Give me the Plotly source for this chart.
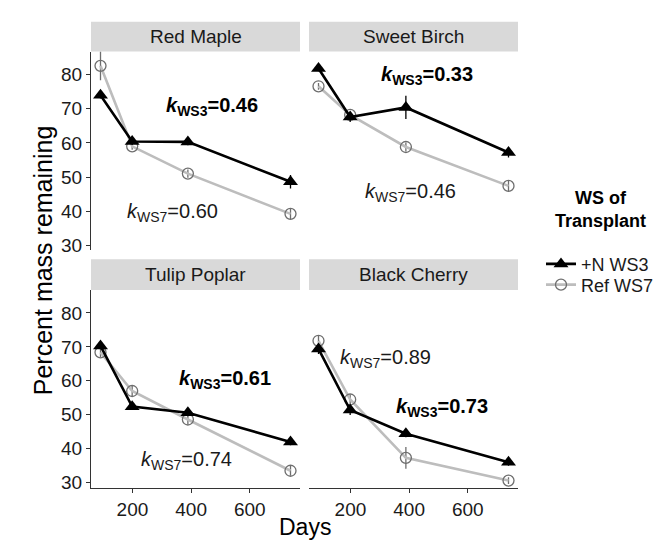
import plotly.graph_objects as go

# ---- data ----
species = ["Red Maple", "Sweet Birch", "Tulip Poplar", "Black Cherry"]
days = [91, 199, 389, 739]

ws3_mass = {
    "Red Maple":    [74.0, 60.4, 60.3, 48.6],
    "Sweet Birch":  [81.8, 67.6, 70.4, 57.2],
    "Tulip Poplar": [70.3, 52.4, 50.6, 42.0],
    "Black Cherry": [69.4, 51.4, 44.4, 36.0],
}
ws3_err = {
    "Red Maple":    [1.0, 1.0, 1.0, 2.0],
    "Sweet Birch":  [0.8, 1.5, 3.4, 1.5],
    "Tulip Poplar": [1.0, 0.8, 1.0, 1.0],
    "Black Cherry": [1.5, 1.5, 1.0, 1.0],
}
ws7_mass = {
    "Red Maple":    [82.6, 59.0, 51.0, 39.2],
    "Sweet Birch":  [76.6, 68.2, 58.8, 47.4],
    "Tulip Poplar": [68.4, 57.0, 48.6, 33.5],
    "Black Cherry": [71.8, 54.5, 37.3, 30.6],
}
ws7_err = {
    "Red Maple":    [4.2, 1.0, 1.2, 1.5],
    "Sweet Birch":  [1.0, 0.8, 1.3, 1.5],
    "Tulip Poplar": [1.5, 1.8, 1.5, 1.5],
    "Black Cherry": [1.5, 1.5, 3.2, 1.0],
}
k_ws3 = {"Red Maple": "0.46", "Sweet Birch": "0.33", "Tulip Poplar": "0.61", "Black Cherry": "0.73"}
k_ws7 = {"Red Maple": "0.60", "Sweet Birch": "0.46", "Tulip Poplar": "0.74", "Black Cherry": "0.89"}
# label anchor positions (days, percent)
k_ws3_pos = {"Red Maple": (470, 70.7), "Sweet Birch": (462, 79.7), "Tulip Poplar": (516, 60.3), "Black Cherry": (513, 52.0)}
k_ws7_pos = {"Red Maple": (335, 39.6), "Sweet Birch": (404, 45.4), "Tulip Poplar": (384, 36.6), "Black Cherry": (320, 66.5)}

legend_names = ["+N WS3", "Ref WS7"]
x_ticks = [200, 400, 600]
y_ticks = [30, 40, 50, 60, 70, 80]

# page has an 8px body margin, so the figure is drawn 8px in from the window edge
OFF = 8
W, H = 669 - OFF, 559 - OFF
FONT = "Liberation Sans, Arial, sans-serif"

def px_x(p):
    return (p - OFF) / W

def px_y(p):
    return 1 - (p - OFF) / H

col_dom = [(px_x(91), px_x(300)), (px_x(309), px_x(518))]
row_dom = [(px_y(253), px_y(52)), (px_y(493), px_y(293))]
strip_dom = [(px_y(52), px_y(22)), (px_y(293), px_y(262))]

fig = go.Figure()
layout = dict(
    width=W, height=H,
    margin=dict(l=0, r=0, t=0, b=0),
    paper_bgcolor="white", plot_bgcolor="white",
    font=dict(family=FONT, color="#1a1a1a"),
    showlegend=True,
)
shapes = []
annotations = []

for i, sp in enumerate(species):
    r, c = divmod(i, 2)
    n = i + 1
    xa = "x" if n == 1 else f"x{n}"
    ya = "y" if n == 1 else f"y{n}"
    xkey = "xaxis" if n == 1 else f"xaxis{n}"
    ykey = "yaxis" if n == 1 else f"yaxis{n}"

    fig.add_trace(go.Scatter(
        x=days, y=ws7_mass[sp], xaxis=xa, yaxis=ya,
        mode="lines+markers", name=legend_names[1], legend="legend2",
        showlegend=(i == 0),
        line=dict(color="#bdbdbd", width=2.6),
        marker=dict(symbol="circle-open", size=11, color="#6e6e6e", line=dict(width=1.3, color="#6e6e6e")),
        error_y=dict(type="data", array=ws7_err[sp], visible=True, width=0, thickness=1.3, color="#6e6e6e"),
        cliponaxis=False,
    ))
    fig.add_trace(go.Scatter(
        x=days, y=ws3_mass[sp], xaxis=xa, yaxis=ya,
        mode="lines+markers", name=legend_names[0], legend="legend",
        showlegend=(i == 0),
        line=dict(color="black", width=2.6),
        marker=dict(symbol="triangle-up", size=13, color="black"),
        error_y=dict(type="data", array=ws3_err[sp], visible=True, width=0, thickness=1.3, color="black"),
        cliponaxis=False,
    ))

    layout[xkey] = dict(
        domain=col_dom[c], range=[58.6, 771.4], anchor=ya,
        showline=(r == 1), linecolor="#333333", linewidth=1.3,
        ticks="outside" if r == 1 else "", ticklen=4, tickcolor="#333333",
        showticklabels=(r == 1), tickvals=x_ticks,
        tickfont=dict(size=19, color="#1a1a1a", family=FONT),
        showgrid=False, zeroline=False,
    )
    layout[ykey] = dict(
        domain=row_dom[r], range=[28.5, 86.8], anchor=xa,
        showline=(c == 0), linecolor="#333333", linewidth=1.3,
        ticks="outside" if c == 0 else "", ticklen=4, tickcolor="#333333",
        showticklabels=(c == 0), tickvals=y_ticks,
        tickfont=dict(size=19, color="#1a1a1a", family=FONT),
        showgrid=False, zeroline=False,
    )

    # strip
    shapes.append(dict(type="rect", xref="paper", yref="paper",
                       x0=col_dom[c][0], x1=col_dom[c][1],
                       y0=strip_dom[r][0], y1=strip_dom[r][1],
                       fillcolor="#d9d9d9", line=dict(width=0), layer="below"))
    annotations.append(dict(text=sp, xref="paper", yref="paper",
                            x=(col_dom[c][0] + col_dom[c][1]) / 2,
                            y=(strip_dom[r][0] + strip_dom[r][1]) / 2,
                            showarrow=False, xanchor="center", yanchor="middle",
                            font=dict(size=19, color="#1a1a1a", family=FONT)))
    # k labels
    kx, ky = k_ws3_pos[sp]
    annotations.append(dict(text=f"<b><i>k</i><sub>WS3</sub>={k_ws3[sp]}</b>", xref=xa, yref=ya,
                            x=kx, y=ky, showarrow=False, xanchor="center", yanchor="middle",
                            font=dict(size=20, color="black", family=FONT)))
    kx, ky = k_ws7_pos[sp]
    annotations.append(dict(text=f"<i>k</i><sub>WS7</sub>={k_ws7[sp]}", xref=xa, yref=ya,
                            x=kx, y=ky, showarrow=False, xanchor="center", yanchor="middle",
                            font=dict(size=20, color="#1a1a1a", family=FONT)))

# axis titles
annotations.append(dict(text="Days", xref="paper", yref="paper", x=px_x(305), y=px_y(533),
                        showarrow=False, xanchor="center", yanchor="middle",
                        font=dict(size=23, color="black", family=FONT)))
annotations.append(dict(text="Percent mass remaining", xref="paper", yref="paper", x=px_x(43), y=px_y(263),
                        showarrow=False, xanchor="center", yanchor="middle", textangle=-90,
                        font=dict(size=25, color="black", family=FONT)))
# legend title
annotations.append(dict(text="<b>WS of<br>Transplant</b>", xref="paper", yref="paper", x=px_x(600), y=px_y(212),
                        showarrow=False, xanchor="center", yanchor="middle", align="center",
                        font=dict(size=18, color="black", family=FONT)))

layout["shapes"] = shapes
layout["annotations"] = annotations
leg_common = dict(xanchor="left", yanchor="middle",
                  font=dict(size=18, color="#1a1a1a", family=FONT),
                  bgcolor="rgba(0,0,0,0)", itemwidth=30, tracegroupgap=0)
layout["legend"] = dict(x=px_x(541), y=px_y(267), **leg_common)
layout["legend2"] = dict(x=px_x(541), y=px_y(288), **leg_common)
fig.update_layout(**layout)
fig.write_html("out.html")
